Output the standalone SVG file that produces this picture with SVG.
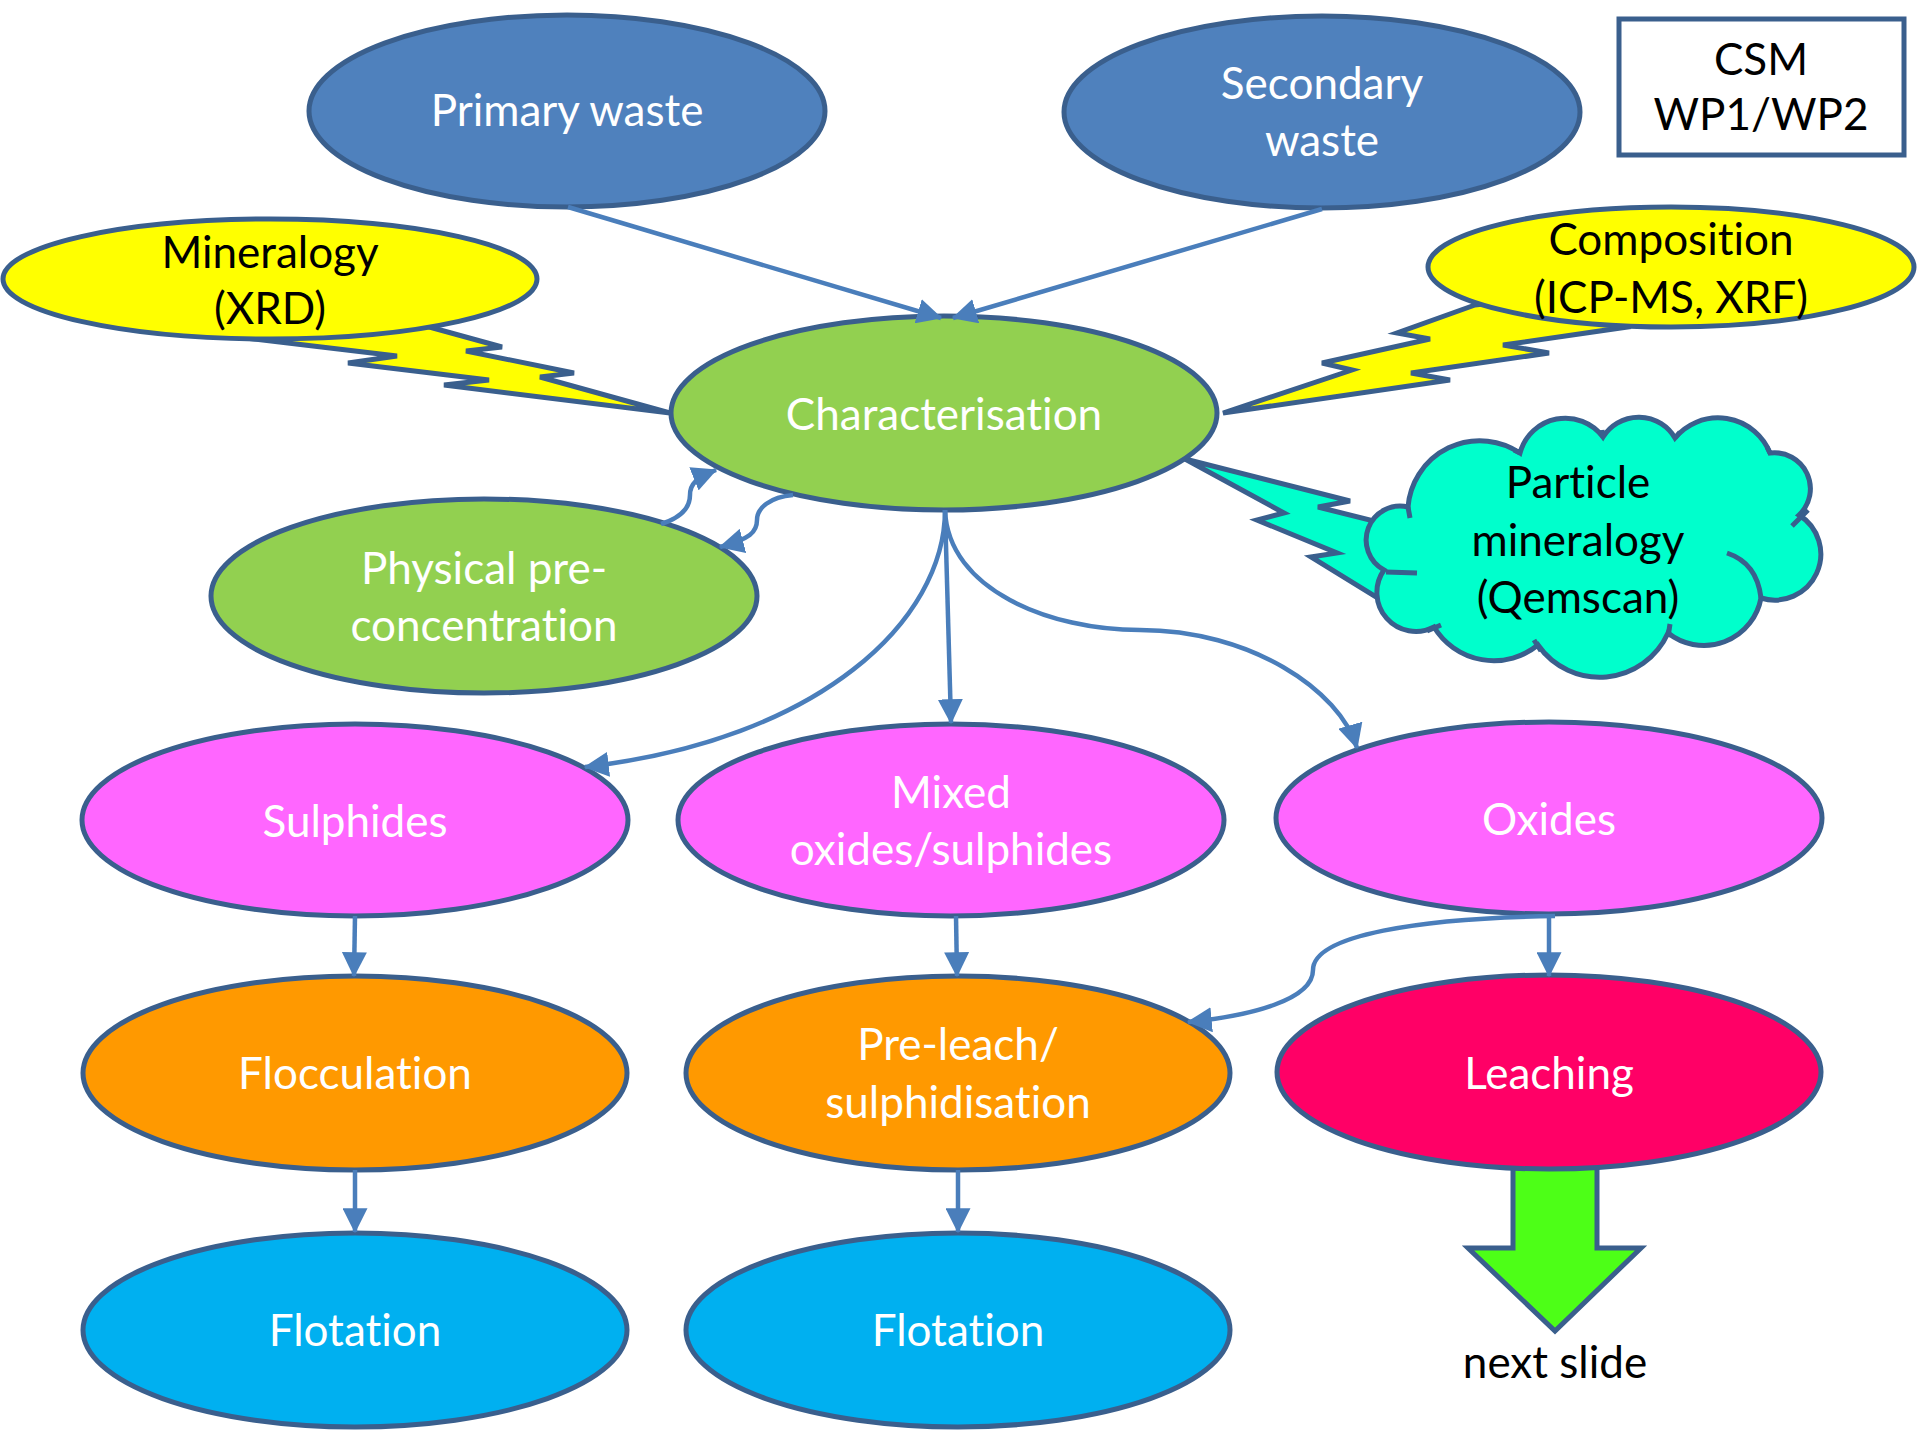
<svg xmlns="http://www.w3.org/2000/svg" width="1920" height="1440" viewBox="0 0 1920 1440">
<style>
.nd{stroke:#3A5F8D;stroke-width:5}
.w{font-family:Lato,"Liberation Sans",sans-serif;font-size:44px;fill:#fff;text-anchor:middle;font-variant-ligatures:none}
.b{font-family:Lato,"Liberation Sans",sans-serif;font-size:44px;fill:#000;text-anchor:middle;font-variant-ligatures:none}
.cn{fill:none;stroke:#4A7EBB;stroke-width:4.5}
</style>
<defs>
<marker id="ah" viewBox="0 0 10 10" refX="9.5" refY="5" markerWidth="25" markerHeight="25" markerUnits="userSpaceOnUse" orient="auto"><path d="M0,0 L10,5 L0,10 z" fill="#4A7EBB"/></marker>
</defs>
<rect width="1920" height="1440" fill="#fff"/>

<g id="bolt-mineralogy"><polygon class="nd" fill="#FFFF00" points="254,339 397,356 348,363 489,380 444,385 670,413 540,377 574,373 466,351 502,347 433,328 340,300"/></g>
<g id="bolt-composition"><polygon class="nd" fill="#FFFF00" points="1475,305 1397,333 1430,339 1322,363 1352,370 1223,413 1450,380 1411,373 1549,353 1503,345 1627,327 1600,290"/></g>
<g id="bolt-particle"><polygon class="nd" fill="#00FFCC" points="1185,459 1350,501 1318,507 1378,522 1420,560 1376,597 1311,557 1337,553 1257,520 1284,513"/></g>
<g id="next-arrow"><polygon class="nd" fill="#4DFF17" points="1513,1150 1597,1150 1597,1248 1641,1248 1555,1331 1468,1248 1513,1248"/></g>

<g id="primary"><ellipse class="nd" fill="#4F81BD" cx="567" cy="111" rx="258" ry="96"/><text class="w" x="567" y="126">Primary waste</text></g>
<g id="secondary"><ellipse class="nd" fill="#4F81BD" cx="1322" cy="112" rx="258" ry="96"/><text class="w" x="1322" y="99">Secondary</text><text class="w" x="1322" y="156">waste</text></g>
<g id="csm"><rect x="1619" y="19" width="285" height="136" fill="#fff" class="nd"/><text class="b" x="1761" y="75">CSM</text><text class="b" x="1761" y="130">WP1/WP2</text></g>
<g id="mineralogy"><ellipse class="nd" fill="#FFFF00" cx="270" cy="279" rx="267" ry="60"/><text class="b" x="270" y="268">Mineralogy</text><text class="b" x="270" y="324">(XRD)</text></g>
<g id="composition"><ellipse class="nd" fill="#FFFF00" cx="1671" cy="267" rx="243" ry="60"/><text class="b" x="1671" y="255">Composition</text><text class="b" x="1671" y="313">(ICP-MS, XRF)</text></g>
<g id="characterisation"><ellipse class="nd" fill="#92D050" cx="944" cy="413" rx="273" ry="97"/><text class="w" x="944" y="430">Characterisation</text></g>
<g id="particle">
<path class="nd" fill="#00FFCC" d="M1520,453 A47,47 0 0 1 1603,437 A42,42 0 0 1 1675,438 A56,56 0 0 1 1770,453 A36,36 0 0 1 1799,515 A46,46 0 0 1 1761,598 A58,58 0 0 1 1668,633 A75,75 0 0 1 1538,645 A70,70 0 0 1 1434,627 A39,39 0 0 1 1384,570 A34,34 0 0 1 1408,507 A72,72 0 0 1 1520,453 Z"/>
<path fill="none" class="nd" d="M1727,553 Q1757,563 1761,598 M1386,572 L1417,573 M1408,507 L1410,518 M1427,631 L1441,625 M1534,640 L1541,651 M1670,624 L1668,637 M1792,526 L1808,510 M1770,453 L1767,447 M1675,438 L1680,432 M1603,437 L1602,430 M1520,453 L1514,450"/>
<text class="b" x="1578" y="498">Particle</text><text class="b" x="1578" y="556">mineralogy</text><text class="b" x="1578" y="613">(Qemscan)</text></g>
<g id="physical"><ellipse class="nd" fill="#92D050" cx="484" cy="596" rx="273" ry="97"/><text class="w" x="484" y="584">Physical pre-</text><text class="w" x="484" y="641">concentration</text></g>
<g id="sulphides"><ellipse class="nd" fill="#FF66FF" cx="355" cy="820" rx="273" ry="96"/><text class="w" x="355" y="837">Sulphides</text></g>
<g id="mixed"><ellipse class="nd" fill="#FF66FF" cx="951" cy="820" rx="273" ry="96"/><text class="w" x="951" y="808">Mixed</text><text class="w" x="951" y="865">oxides/sulphides</text></g>
<g id="oxides"><ellipse class="nd" fill="#FF66FF" cx="1549" cy="818" rx="273" ry="96"/><text class="w" x="1549" y="835">Oxides</text></g>
<g id="flocculation"><ellipse class="nd" fill="#FF9900" cx="355" cy="1073" rx="272" ry="97"/><text class="w" x="355" y="1089">Flocculation</text></g>
<g id="preleach"><ellipse class="nd" fill="#FF9900" cx="958" cy="1073" rx="272" ry="97"/><text class="w" x="958" y="1060">Pre-leach/</text><text class="w" x="958" y="1118">sulphidisation</text></g>
<g id="leaching"><ellipse class="nd" fill="#FF0066" cx="1549" cy="1072" rx="272" ry="97"/><text class="w" x="1549" y="1089">Leaching</text></g>
<g id="flotation1"><ellipse class="nd" fill="#00B0F0" cx="355" cy="1330" rx="272" ry="97"/><text class="w" x="355" y="1346">Flotation</text></g>
<g id="flotation2"><ellipse class="nd" fill="#00B0F0" cx="958" cy="1330" rx="272" ry="97"/><text class="w" x="958" y="1346">Flotation</text></g>
<g id="next-slide"><text class="b" x="1555" y="1378">next slide</text></g>

<g id="connectors">
<path class="cn" marker-end="url(#ah)" d="M568,207 L941,318"/>
<path class="cn" marker-end="url(#ah)" d="M1322,209 L953,318"/>
<path class="cn" marker-end="url(#ah)" d="M661,524 C680,518 690,508 690,495 C690,484 696,478 716,470"/>
<path class="cn" marker-end="url(#ah)" d="M793,495 C770,497 757,508 757,520 C757,532 750,539 720,547"/>
<path class="cn" marker-end="url(#ah)" d="M945,510 C945,620 820,740 585,767"/>
<path class="cn" marker-end="url(#ah)" d="M945,510 L951,723"/>
<path class="cn" marker-end="url(#ah)" d="M945,510 C948,590 1050,630 1140,630 C1250,630 1340,690 1357,748"/>
<path class="cn" marker-end="url(#ah)" d="M355,916 L354,976"/>
<path class="cn" marker-end="url(#ah)" d="M956,916 L957,976"/>
<path class="cn" marker-end="url(#ah)" d="M1549,914 L1549,976"/>
<path class="cn" marker-end="url(#ah)" d="M1555,916 C1420,918 1313,935 1313,970 C1313,1000 1250,1016 1188,1022"/>
<path class="cn" marker-end="url(#ah)" d="M355,1170 L355,1232"/>
<path class="cn" marker-end="url(#ah)" d="M958,1170 L958,1232"/>
</g>
</svg>
